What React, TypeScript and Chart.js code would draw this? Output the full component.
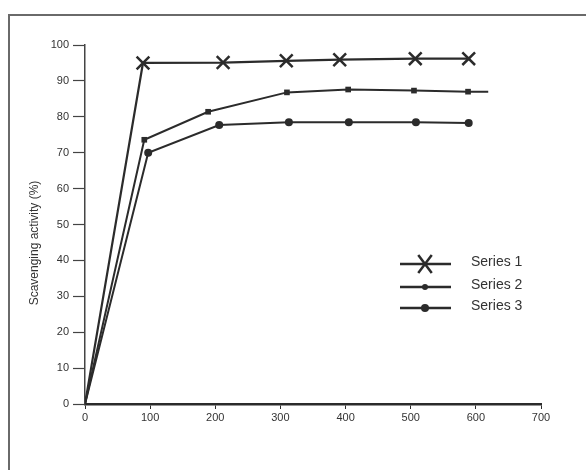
import React, { useEffect, useRef } from "react";
import { Chart, registerables } from "chart.js";

Chart.register(...registerables);

// ---- data ----
const seriesNames = ["Series 1", "Series 2", "Series 3"];
const series1X = [0, 89, 212, 309, 391, 507, 589];
const series1Y = [0, 95.0, 95.1, 95.6, 95.9, 96.2, 96.2];
const series2X = [0, 91, 189, 310, 404, 505, 588, 619];
const series2Y = [0, 73.6, 81.4, 86.8, 87.6, 87.3, 87.0, 87.0];
const series3X = [0, 97, 206, 313, 405, 508, 589];
const series3Y = [0, 70.0, 77.7, 78.5, 78.5, 78.5, 78.3];
const xTickValues = [0, 100, 200, 300, 400, 500, 600, 700];
const yTickValues = [0, 10, 20, 30, 40, 50, 60, 70, 80, 90, 100];
const yAxisTitle = "Scavenging activity (%)";

const INK = "#2b2b2b";
const FONT = "'Liberation Sans', Arial, sans-serif";

function toPoints(xs: number[], ys: number[]) {
  return xs.map((x, i) => ({ x, y: ys[i] }));
}

function drawMarker(ctx: CanvasRenderingContext2D, kind: number, x: number, y: number) {
  ctx.save();
  ctx.fillStyle = INK;
  ctx.strokeStyle = INK;
  if (kind === 0) {
    ctx.lineWidth = 2.5;
    const r = 9;
    ctx.beginPath();
    ctx.moveTo(x - r * 0.75, y - r);
    ctx.lineTo(x + r * 0.75, y + r);
    ctx.moveTo(x + r * 0.75, y - r);
    ctx.lineTo(x - r * 0.75, y + r);
    ctx.stroke();
  } else if (kind === 1) {
    ctx.beginPath();
    ctx.arc(x, y, 3, 0, Math.PI * 2);
    ctx.fill();
  } else {
    ctx.beginPath();
    ctx.arc(x, y, 4, 0, Math.PI * 2);
    ctx.fill();
  }
  ctx.restore();
}

const decorPlugin = {
  id: "decor",
  beforeDraw(chart: any) {
    const ctx = chart.ctx as CanvasRenderingContext2D;
    ctx.save();
    ctx.fillStyle = "#ffffff";
    ctx.fillRect(0, 0, chart.width, chart.height);
    ctx.strokeStyle = "#6a6a6a";
    ctx.lineWidth = 2;
    ctx.beginPath();
    ctx.moveTo(9, chart.height + 5);
    ctx.lineTo(9, 15);
    ctx.lineTo(chart.width + 5, 15);
    ctx.stroke();
    ctx.restore();
  },
  afterDraw(chart: any) {
    const ctx = chart.ctx as CanvasRenderingContext2D;
    // y-axis title
    ctx.save();
    ctx.translate(35, 243);
    ctx.rotate(-Math.PI / 2);
    ctx.font = `12px ${FONT}`;
    ctx.fillStyle = "#333";
    ctx.textAlign = "center";
    ctx.textBaseline = "middle";
    ctx.fillText(yAxisTitle, 0, 0);
    ctx.restore();

    // legend
    const rows = [264, 287, 308];
    seriesNames.forEach((name, i) => {
      const y = rows[i];
      ctx.save();
      ctx.strokeStyle = INK;
      ctx.lineWidth = 2.5;
      ctx.beginPath();
      ctx.moveTo(400, y);
      ctx.lineTo(451, y);
      ctx.stroke();
      drawMarker(ctx, i, 425, y);
      ctx.font = `14px ${FONT}`;
      ctx.fillStyle = "#333";
      ctx.textAlign = "left";
      ctx.textBaseline = "middle";
      ctx.fillText(name, 471, y - 2);
      ctx.restore();
    });
  },
};

export default function App() {
  const canvasRef = useRef<HTMLCanvasElement | null>(null);

  useEffect(() => {
    if (!canvasRef.current) return;
    const chart = new Chart(canvasRef.current, {
      type: "scatter",
      data: {
        datasets: [
          {
            label: seriesNames[0],
            data: toPoints(series1X, series1Y),
            showLine: true,
            borderColor: INK,
            borderWidth: 2.2,
            pointStyle: "crossRot",
            pointRadius: series1X.map((x) => (x === 0 ? 0 : 9)),
            pointBorderWidth: 2.5,
            pointBorderColor: INK,
            pointBackgroundColor: INK,
          },
          {
            label: seriesNames[1],
            data: toPoints(series2X, series2Y),
            showLine: true,
            borderColor: INK,
            borderWidth: 2,
            pointStyle: "rect",
            pointRadius: series2X.map((x, i) => (x === 0 || i === series2X.length - 1 ? 0 : 4)),
            pointBorderWidth: 0,
            pointBackgroundColor: INK,
          },
          {
            label: seriesNames[2],
            data: toPoints(series3X, series3Y),
            showLine: true,
            borderColor: INK,
            borderWidth: 2,
            pointStyle: "circle",
            pointRadius: series3X.map((x) => (x === 0 ? 0 : 4)),
            pointBorderWidth: 0,
            pointBackgroundColor: INK,
          },
        ],
      },
      options: {
        animation: false,
        responsive: false,
        devicePixelRatio: 1,
        layout: { padding: { left: 0, top: 45, right: 45, bottom: 0 } },
        plugins: {
          legend: { display: false },
          tooltip: { enabled: false },
        },
        scales: {
          x: {
            type: "linear",
            min: 0,
            max: 700,
            afterBuildTicks: (scale: any) => {
              scale.ticks = xTickValues.map((v) => ({ value: v }));
            },
            afterFit: (scale: any) => {
              scale.height = 66;
            },
            ticks: {
              color: "#333",
              font: { family: FONT, size: 11 },
              padding: 2,
              maxRotation: 0,
            },
            grid: {
              drawOnChartArea: false,
              drawTicks: true,
              tickLength: 5,
              color: INK,
              tickWidth: 1,
            },
            border: { display: true, color: INK, width: 2.5 },
          },
          y: {
            type: "linear",
            min: 0,
            max: 100,
            afterBuildTicks: (scale: any) => {
              scale.ticks = yTickValues.map((v) => ({ value: v }));
            },
            afterFit: (scale: any) => {
              scale.width = 85;
            },
            ticks: {
              color: "#333",
              font: { family: FONT, size: 11 },
              padding: 4,
            },
            grid: {
              drawOnChartArea: false,
              drawTicks: true,
              tickLength: 12,
              color: "#444",
              tickWidth: 1.2,
            },
            border: { display: true, color: "#444", width: 1.5 },
          },
        },
      },
      plugins: [decorPlugin],
    });
    return () => chart.destroy();
  }, []);

  return (
    <div style={{ position: "fixed", left: 0, top: 0, width: 586, height: 470, background: "#fff" }}>
      <canvas ref={canvasRef} width={586} height={470} style={{ display: "block", width: 586, height: 470 }} />
    </div>
  );
}
